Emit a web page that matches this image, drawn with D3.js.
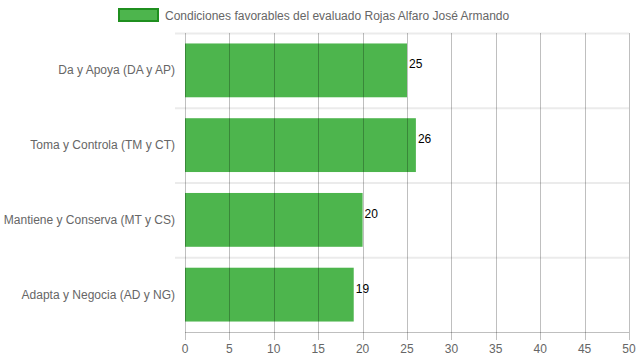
<!DOCTYPE html>
<html><head><meta charset="utf-8">
<script src="https://cdn.jsdelivr.net/npm/d3@7"></script>
<style>body{margin:0;background:#fff}svg{display:block;font-family:"Liberation Sans",Arial,Helvetica,sans-serif}</style>
</head><body>
<svg id="c" width="639" height="360"></svg>
<script>
const categories = ["Da y Apoya (DA y AP)", "Toma y Controla (TM y CT)", "Mantiene y Conserva (MT y CS)", "Adapta y Negocia (AD y NG)"];
const values = [25, 26, 20, 19];
const xTicks = [0,5,10,15,20,25,30,35,40,45,50];
const seriesName = "Condiciones favorables del evaluado Rojas Alfaro José Armando";

const svg = d3.select("#c");
const m = {left:185, right:629, top:33, bottom:332};
const x = d3.scaleLinear().domain([0,50]).range([m.left, m.right]);
const y = d3.scaleBand().domain(categories).range([m.top, m.bottom]);
const inner = 0.72;

// horizontal grid lines (category boundaries)
const bounds = categories.map(c => y(c));
svg.append("g").selectAll("line").data(bounds).join("line")
  .attr("x1", m.left-10).attr("x2", m.right)
  .attr("y1", d=>d+0.5).attr("y2", d=>d+0.5)
  .attr("stroke", "rgba(0,0,0,0.08)").attr("stroke-width", 2);

// bars
const bw = y.bandwidth()*inner;
svg.append("g").selectAll("rect").data(values).join("rect")
  .attr("x", x(0))
  .attr("y", (d,i)=> y(categories[i]) + (y.bandwidth()-bw)/2)
  .attr("width", d=> x(d)-x(0))
  .attr("height", bw)
  .attr("fill", "#4db54d");

// vertical grid lines
svg.append("g").selectAll("line").data(xTicks).join("line")
  .attr("x1", d=>Math.round(x(d))+0.5).attr("x2", d=>Math.round(x(d))+0.5)
  .attr("y1", m.top).attr("y2", m.bottom+8)
  .attr("stroke", "rgba(0,0,0,0.25)").attr("stroke-width", 1);

// x axis line
svg.append("line").attr("x1", m.left).attr("x2", m.right)
  .attr("y1", m.bottom+0.5).attr("y2", m.bottom+0.5)
  .attr("stroke", "rgba(0,0,0,0.25)");

// x tick labels
svg.append("g").selectAll("text").data(xTicks).join("text")
  .attr("x", d=>x(d)).attr("y", 353)
  .attr("text-anchor","middle").attr("font-size",12).attr("fill","#666")
  .text(d=>d);

// category labels
svg.append("g").selectAll("text").data(categories).join("text")
  .attr("x", 175).attr("y", d=>y(d)+y.bandwidth()/2+4)
  .attr("text-anchor","end").attr("font-size",12).attr("fill","#666")
  .text(d=>d);

// value labels
svg.append("g").selectAll("text").data(values).join("text")
  .attr("x", d=>x(d)+2).attr("y", (d,i)=>y(categories[i])+y.bandwidth()/2-2)
  .attr("font-size",12).attr("fill","#000")
  .text(d=>d);

// legend
svg.append("rect").attr("x",119).attr("y",9).attr("width",39).attr("height",12)
  .attr("fill","#4db54d").attr("stroke","#1f8f1f").attr("stroke-width",2);
svg.append("text").attr("x",165).attr("y",20).attr("font-size",12).attr("fill","#666").text(seriesName);
</script>
</body></html>
